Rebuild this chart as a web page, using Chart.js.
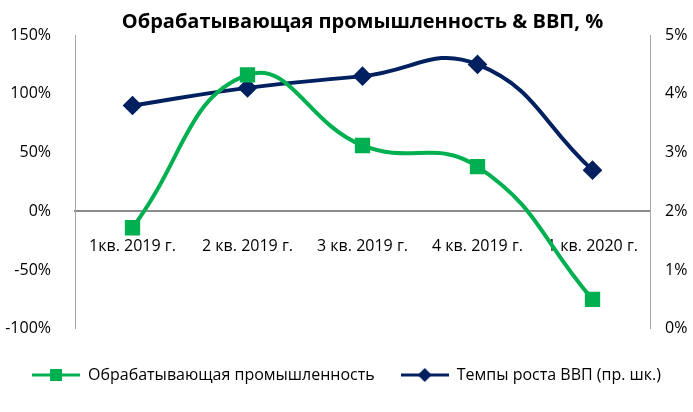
<!DOCTYPE html>
<html>
<head>
<meta charset="utf-8">
<script src="https://cdn.jsdelivr.net/npm/chart.js@4"></script>
<style>
  html, body { margin: 0; padding: 0; background: #fff; }
  #wrap { width: 693px; height: 412px; }
</style>
</head>
<body>
<div id="wrap"><canvas id="c" width="693" height="412"></canvas></div>
<script>
const categories = ['1кв. 2019 г.', '2 кв. 2019 г.', '3 кв. 2019 г.', '4 кв. 2019 г.', '1 кв. 2020 г.'];
const industry = [-14, 116, 56, 38, -75];
const gdpGrowth = [3.8, 4.1, 4.3, 4.5, 2.7];
const TITLE = 'Обрабатывающая промышленность & ВВП, %';

const GREEN = '#00b050';
const NAVY = '#002060';
const FONT = "'Open Sans', 'Noto Sans', sans-serif";

// legend icon: line with marker
const legendIcon = (color, shape) => {
  const cv = document.createElement('canvas');
  cv.width = 48; cv.height = 16;
  const g = cv.getContext('2d');
  g.strokeStyle = color; g.lineWidth = 3;
  g.beginPath(); g.moveTo(0, 8); g.lineTo(48, 8); g.stroke();
  g.fillStyle = color;
  if (shape === 'square') g.fillRect(18, 2, 12, 12);
  else { g.beginPath(); g.moveTo(24, 1); g.lineTo(31, 8); g.lineTo(24, 15); g.lineTo(17, 8); g.closePath(); g.fill(); }
  return cv;
};

// title centred over the plot area, like the original
const titlePlugin = {
  id: 'plotTitle',
  afterDraw(chart) {
    const { ctx, chartArea } = chart;
    ctx.save();
    ctx.font = `bold 20px ${FONT}`;
    ctx.fillStyle = '#000';
    ctx.textAlign = 'center';
    ctx.textBaseline = 'middle';
    ctx.fillText(TITLE, (chartArea.left + chartArea.right) / 2, 22);
    ctx.restore();
  }
};

new Chart(document.getElementById('c'), {
  type: 'line',
  data: {
    labels: categories,
    datasets: [
      { label: 'Обрабатывающая промышленность', data: industry, yAxisID: 'y',
        borderColor: GREEN, backgroundColor: GREEN, borderWidth: 4, tension: 0.45,
        pointStyle: 'rect', pointRadius: 8, pointHoverRadius: 8, _icon: legendIcon(GREEN, 'square') },
      { label: 'Темпы роста ВВП (пр. шк.)', data: gdpGrowth, yAxisID: 'y1',
        borderColor: NAVY, backgroundColor: NAVY, borderWidth: 4, tension: 0.45,
        pointStyle: 'rectRot', pointRadius: 7, pointHoverRadius: 7, _icon: legendIcon(NAVY, 'diamond') }
    ]
  },
  plugins: [titlePlugin],
  options: {
    responsive: false,
    animation: false,
    layout: { padding: { top: 35, bottom: 19, left: 0, right: 0 } },
    plugins: {
      legend: {
        position: 'bottom',
        // empty title only to leave a gap above the legend row
        title: { display: true, text: '', font: { size: 1 }, padding: { top: 0, bottom: 11 } },
        labels: {
          color: '#000', font: { family: FONT, size: 16 },
          usePointStyle: true, pointStyleWidth: 48, padding: 26,
          generateLabels: chart => chart.data.datasets.map((d, i) => ({
            text: d.label, pointStyle: d._icon, fontColor: '#000',
            strokeStyle: d.borderColor, fillStyle: d.borderColor, lineWidth: 0, datasetIndex: i
          }))
        }
      },
      tooltip: { enabled: false }
    },
    scales: {
      x: {
        position: { y: 0 },
        offset: true,
        grid: { display: false, drawTicks: false },
        border: { color: '#8c8c8c', width: 2 },
        ticks: { color: '#000', font: { family: FONT, size: 16 }, padding: 26, maxRotation: 0, autoSkip: false }
      },
      y: {
        position: 'left', min: -100, max: 150,
        grid: { display: false },
        border: { color: '#a6a6a6', width: 1 },
        afterFit: s => { s.width = 75; },
        ticks: { stepSize: 50, color: '#000', font: { family: FONT, size: 16 }, padding: 16, callback: v => v + '%' }
      },
      y1: {
        position: 'right', min: 0, max: 5,
        grid: { display: false, drawOnChartArea: false, tickLength: 5 },
        border: { color: '#a6a6a6', width: 1 },
        afterFit: s => { s.width = 43; },
        ticks: { stepSize: 1, color: '#000', font: { family: FONT, size: 16 }, padding: 10, callback: v => v + '%' }
      }
    }
  }
});
</script>
</body>
</html>
